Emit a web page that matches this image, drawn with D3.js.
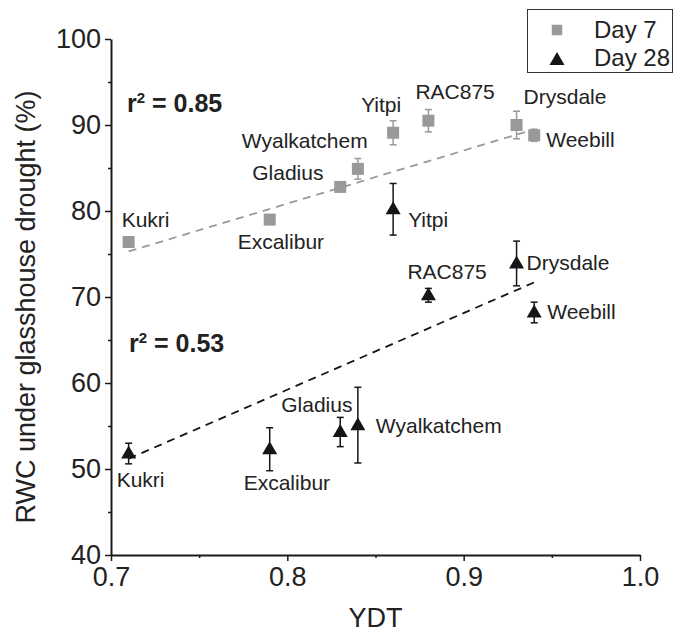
<!DOCTYPE html>
<html>
<head>
<meta charset="utf-8">
<script src="https://cdn.jsdelivr.net/npm/d3@7"></script>
<style>
  html, body { margin: 0; padding: 0; background: #fff; }
  svg { display: block; font-family: "Liberation Sans", Arial, sans-serif; }
</style>
</head>
<body>
<svg id="chart" width="675" height="632"></svg>
<script>
// cultivars and their YDT values
const cultivars = ["Kukri", "Excalibur", "Gladius", "Wyalkatchem", "Yitpi", "RAC875", "Drysdale", "Weebill"];
const ydt = [0.71, 0.79, 0.83, 0.84, 0.86, 0.88, 0.93, 0.94];

// RWC (%) means and error (+/-)
const day7 = [76.4, 79.0, 82.8, 84.9, 89.1, 90.5, 90.0, 88.8];
const day7Err = [0.5, 0.3, 0.4, 1.2, 1.4, 1.3, 1.6, 0.7];
const day28 = [51.8, 52.3, 54.3, 55.1, 80.2, 70.2, 73.9, 68.2];
const day28Err = [1.2, 2.5, 1.7, 4.4, 3.0, 0.8, 2.6, 1.2];

// fitted trend lines (end points)
const fit7 = [[0.71, 75.3], [0.94, 89.5]];
const fit28 = [[0.71, 51.2], [0.94, 71.7]];
const r2Labels = ["0.85", "0.53"];

const xTicks = [0.7, 0.8, 0.9, 1.0];
const yTicks = [40, 50, 60, 70, 80, 90, 100];

// label offsets from the point (px)
const labelOffsets7 = {
    Kukri: [-7, -15], Excalibur: [-32, 29], Gladius: [-88, -7], Wyalkatchem: [-116, -21],
    Yitpi: [-32, -21], RAC875: [-13, -22], Drysdale: [7, -21], Weebill: [12, 12]
};
const labelOffsets28 = {
    Kukri: [-12, 33], Excalibur: [-26, 41], Gladius: [-59, -20], Wyalkatchem: [18, 8],
    Yitpi: [15, 18], RAC875: [-21, -16], Drysdale: [10, 7], Weebill: [13, 7]
};

const gray = "#999999";
const dark = "#151515";
const textCol = "#222";

const svg = d3.select("#chart");
const margin = { top: 39, left: 111, right: 35, bottom: 77 };
const width = 675, height = 632;

const x = d3.scaleLinear().domain([0.7, 1.0]).range([margin.left, width - margin.right]);
const y = d3.scaleLinear().domain([40, 100]).range([height - margin.bottom, margin.top]);

// axes
const xAxis = svg.append("g")
    .attr("transform", `translate(0,${y(40)})`)
    .call(d3.axisBottom(x).tickValues(xTicks).tickFormat(d3.format(".1f")).tickSize(6).tickSizeOuter(0));
svg.append("g")
    .attr("transform", `translate(0,${y(40)})`)
    .call(d3.axisBottom(x).tickValues([0.75, 0.85, 0.95]).tickFormat("").tickSize(3).tickSizeOuter(0))
    .select(".domain").remove();

const yAxis = svg.append("g")
    .attr("transform", `translate(${x(0.7)},0)`)
    .call(d3.axisLeft(y).tickValues(yTicks).tickSize(6).tickSizeOuter(0));
svg.append("g")
    .attr("transform", `translate(${x(0.7)},0)`)
    .call(d3.axisLeft(y).tickValues([45, 55, 65, 75, 85, 95]).tickFormat("").tickSize(3).tickSizeOuter(0))
    .select(".domain").remove();

svg.selectAll(".domain").attr("stroke", "#1a1a1a").attr("stroke-width", 2);
svg.selectAll(".tick line").attr("stroke", "#1a1a1a").attr("stroke-width", 1.5);

xAxis.selectAll("text")
    .attr("y", 12)
    .attr("dy", "0.71em")
    .style("font-size", "27px")
    .attr("fill", textCol);
yAxis.selectAll("text")
    .attr("x", -10)
    .style("font-size", "27px")
    .attr("fill", textCol);

// axis titles
svg.append("text")
    .attr("x", (x(0.7) + x(1.0)) / 2)
    .attr("y", 627)
    .attr("text-anchor", "middle")
    .style("font-size", "27px")
    .attr("fill", textCol)
    .text("YDT");

svg.append("text")
    .attr("transform", `translate(35,${(y(40) + y(100)) / 2 + 10}) rotate(-90)`)
    .attr("text-anchor", "middle")
    .style("font-size", "27px")
    .attr("fill", textCol)
    .text("RWC under glasshouse drought (%)");

// trend lines
const line = d3.line().x(d => x(d[0])).y(d => y(d[1]));
svg.append("path")
    .attr("d", line(fit7))
    .attr("fill", "none")
    .attr("stroke", gray)
    .attr("stroke-width", 1.8)
    .attr("stroke-dasharray", "8,6");
svg.append("path")
    .attr("d", line(fit28))
    .attr("fill", "none")
    .attr("stroke", dark)
    .attr("stroke-width", 1.8)
    .attr("stroke-dasharray", "8,6");

function drawSeries(vals, errs, color, symbol, offsets) {
    const data = cultivars.map((c, i) => ({ name: c, x: ydt[i], y: vals[i], e: errs[i] }));
    const g = svg.append("g");

    const eb = g.selectAll("g.err").data(data).join("g").attr("class", "err")
        .attr("stroke", color).attr("stroke-width", 1.5);
    eb.append("line")
        .attr("x1", d => x(d.x)).attr("x2", d => x(d.x))
        .attr("y1", d => y(d.y - d.e)).attr("y2", d => y(d.y + d.e));
    eb.append("line")
        .attr("x1", d => x(d.x) - 3.5).attr("x2", d => x(d.x) + 3.5)
        .attr("y1", d => y(d.y + d.e)).attr("y2", d => y(d.y + d.e));
    eb.append("line")
        .attr("x1", d => x(d.x) - 3.5).attr("x2", d => x(d.x) + 3.5)
        .attr("y1", d => y(d.y - d.e)).attr("y2", d => y(d.y - d.e));

    g.selectAll("path.pt").data(data).join("path").attr("class", "pt")
        .attr("d", symbol)
        .attr("transform", d => `translate(${x(d.x)},${y(d.y)})`)
        .attr("fill", color);

    g.selectAll("text.lbl").data(data).join("text").attr("class", "lbl")
        .attr("x", d => x(d.x) + offsets[d.name][0])
        .attr("y", d => y(d.y) + offsets[d.name][1])
        .style("font-size", "21px")
        .attr("fill", textCol)
        .text(d => d.name);
}

const square = d3.symbol(d3.symbolSquare, 144)();
const triangle = "M0,-8L7.5,5L-7.5,5Z";

drawSeries(day7, day7Err, gray, square, labelOffsets7);
drawSeries(day28, day28Err, dark, triangle, labelOffsets28);

// r² annotations
function r2Text(xPos, yPos, val) {
    const t = svg.append("text")
        .attr("x", xPos).attr("y", yPos)
        .style("font-size", "25px")
        .style("font-weight", "bold")
        .attr("fill", textCol);
    t.append("tspan").text("r");
    t.append("tspan").attr("dy", -9).style("font-size", "15px").text("2");
    t.append("tspan").attr("dy", 9).text(` = ${val}`);
}
r2Text(127, 112, r2Labels[0]);
r2Text(129, 352, r2Labels[1]);

// legend
const legend = svg.append("g");
legend.append("rect")
    .attr("x", 527.5).attr("y", 9.5)
    .attr("width", 145).attr("height", 63)
    .attr("fill", "#fff")
    .attr("stroke", "#333").attr("stroke-width", 1);
legend.append("path")
    .attr("d", d3.symbol(d3.symbolSquare, 110)())
    .attr("transform", "translate(557,30)")
    .attr("fill", gray);
legend.append("path")
    .attr("d", triangle)
    .attr("transform", "translate(557,60)")
    .attr("fill", dark);
legend.append("text").attr("x", 594).attr("y", 38)
    .style("font-size", "24px").attr("fill", textCol).text("Day 7");
legend.append("text").attr("x", 594).attr("y", 66)
    .style("font-size", "24px").attr("fill", textCol).text("Day 28");
</script>
</body>
</html>
